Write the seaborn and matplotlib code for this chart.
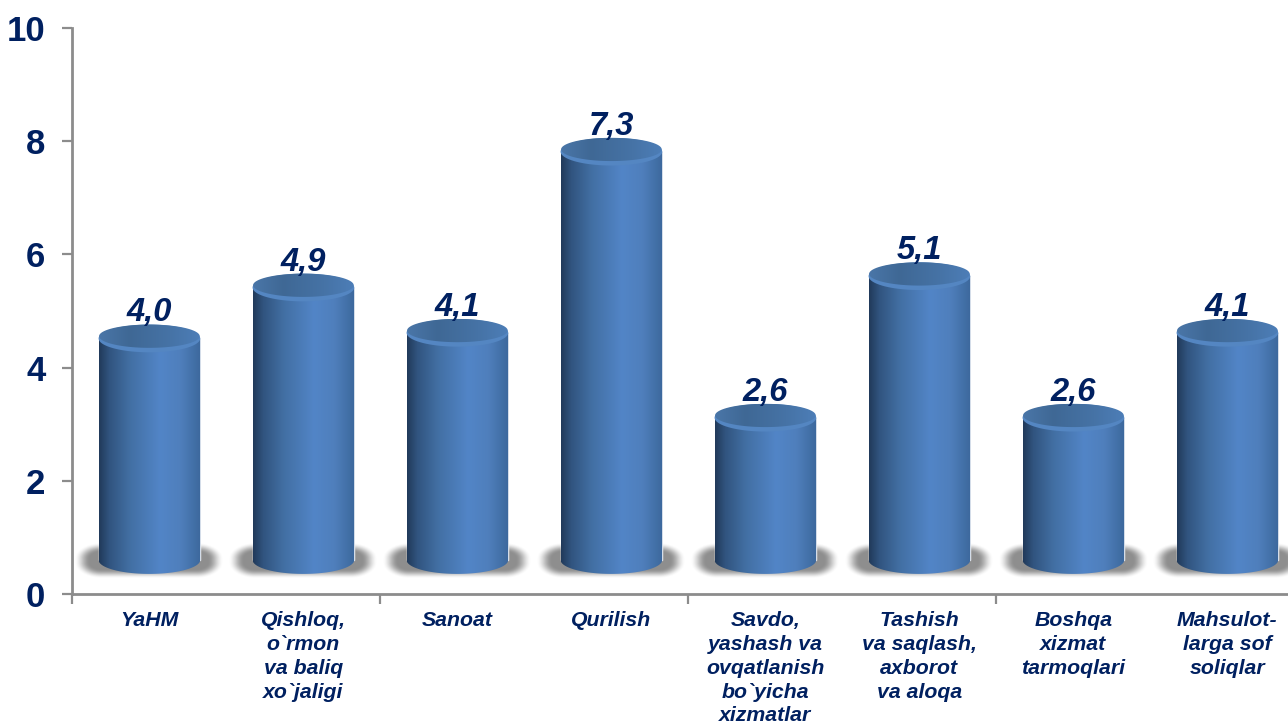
import seaborn as sns
import pandas as pd
import numpy as np
import matplotlib.pyplot as plt
from matplotlib.colors import LinearSegmentedColormap
from matplotlib.patches import Polygon

categories = ["YaHM", "Qishloq,\no`rmon\nva baliq\nxo`jaligi", "Sanoat", "Qurilish",
              "Savdo,\nyashash va\novqatlanish\nbo`yicha\nxizmatlar",
              "Tashish\nva saqlash,\naxborot\nva aloqa",
              "Boshqa\nxizmat\ntarmoqlari", "Mahsulot-\nlarga sof\nsoliqlar"]
values = [4.0, 4.9, 4.1, 7.3, 2.6, 5.1, 2.6, 4.1]
value_labels = ["4,0", "4,9", "4,1", "7,3", "2,6", "5,1", "2,6", "4,1"]
y_ticks = [0, 2, 4, 6, 8, 10]

navy = "#002060"
axis_grey = "#8c8c8c"

# the 3D look of the original floats the cylinders above the axis
base = 0.6
lift = 0.515
cap = 0.245

sns.set_style("white")
plt.rcParams["font.family"] = ["Liberation Sans", "DejaVu Sans"]

fig = plt.figure(figsize=(12.88, 7.24), dpi=100)
ax = fig.add_axes([72.4 / 1288, 1 - 594 / 724, (1288 - 72.4) / 1288, (594 - 28) / 724])

df = pd.DataFrame({"category": categories, "value": values})
sns.barplot(data=df, x="category", y="value", width=0.66, color="#4a78b0", saturation=1, ax=ax)

side_cmap = LinearSegmentedColormap.from_list("side", [(0, "#213a5a"), (0.1, "#31547f"), (0.3, "#426fa3"),
                                                      (0.6, "#5285c7"), (0.8, "#4f7fbc"), (1, "#3c689c")])
top_cmap = LinearSegmentedColormap.from_list("top", [(0, "#4a76a8"), (0.3, "#3f6895"), (0.7, "#4673a6"), (1, "#4d7eb8")])
gradient = np.linspace(0, 1, 256).reshape(1, -1)
t = np.linspace(0, np.pi, 60)

# blurred box for the floor shadow, worked out in pixels
xs = np.arange(-77, 77.5, 1.0)
ys = np.arange(-18, 18.5, 1.0)
xx, yy = np.meshgrid(xs, ys)
dist = np.hypot(np.clip(np.abs(xx) - 48, 0, None) / 27, np.clip(np.abs(yy) - 2, 0, None) / 16)
fade = np.clip((1 - dist) * 1.7, 0, 1)
shadow = np.zeros(xx.shape + (4,))
shadow[..., :3] = 0.56
shadow[..., 3] = fade * fade * (3 - 2 * fade)

for bar, label in zip(ax.patches, value_labels):
    left = bar.get_x()
    w = bar.get_width()
    c = left + w / 2
    top = bar.get_height() + lift
    bar.set_y(base)
    bar.set_height(top - base)
    bar.set_zorder(2)

    ax.imshow(shadow, extent=[c - 0.5, c + 0.5, base - 0.33, base + 0.31], aspect="auto", zorder=1,
              interpolation="bilinear")

    # cylinder side
    px = c - w / 2 * np.cos(t)
    lower = np.column_stack([px, base - cap * np.sin(t)])
    upper = np.column_stack([px[::-1], np.full(60, top)])
    body = Polygon(np.vstack([lower, upper]), transform=ax.transData, fc="none", ec="none", zorder=3)
    ax.add_patch(body)
    im = ax.imshow(gradient, cmap=side_cmap, extent=[left, left + w, base - cap, top], aspect="auto", zorder=3)
    im.set_clip_path(body)

    # light rim and the lid
    full = np.linspace(0, 2 * np.pi, 120)
    rim = Polygon(np.column_stack([c + w / 2 * np.cos(full), top + cap * np.sin(full)]),
                  fc="#5486c2", ec="none", zorder=4)
    ax.add_patch(rim)
    lid = Polygon(np.column_stack([c + w / 2 * 0.99 * np.cos(full), top + 0.04 + cap * 0.84 * np.sin(full)]),
                  transform=ax.transData, fc="none", ec="none", zorder=5)
    ax.add_patch(lid)
    im2 = ax.imshow(gradient, cmap=top_cmap, extent=[left, left + w, top - cap, top + cap], aspect="auto", zorder=5)
    im2.set_clip_path(lid)

    ax.text(c, top + 0.3, label, ha="center", va="baseline", fontsize=23.5, fontweight="bold",
            fontstyle="italic", color=navy, zorder=6)

ax.set_xlim(-0.5, -0.5 + (1288 - 72.4) / 154)
ax.set_ylim(0, 10)
ax.set_xlabel("")
ax.set_ylabel("")

ax.set_yticks(y_ticks)
ax.set_yticklabels([str(v) for v in y_ticks], fontsize=25, fontweight="bold", color=navy)
ax.tick_params(axis="y", length=7.5, width=1.6, color=axis_grey, pad=12, left=True)

ax.set_xticks(range(len(categories)))
ax.set_xticklabels(categories, fontsize=15.3, fontweight="bold", fontstyle="italic", color=navy,
                   linespacing=1.33, va="top")
ax.tick_params(axis="x", which="major", length=0, pad=12)
# ticks sit every second category, as in the source
ax.set_xticks([-0.5, 1.5, 3.5, 5.5], minor=True)
ax.tick_params(axis="x", which="minor", length=7, width=1.6, color=axis_grey, bottom=True)

sns.despine(ax=ax, top=True, right=True)
for side in ["left", "bottom"]:
    ax.spines[side].set_color(axis_grey)
    ax.spines[side].set_linewidth(2.0)

fig.savefig("out.png", dpi=100)
